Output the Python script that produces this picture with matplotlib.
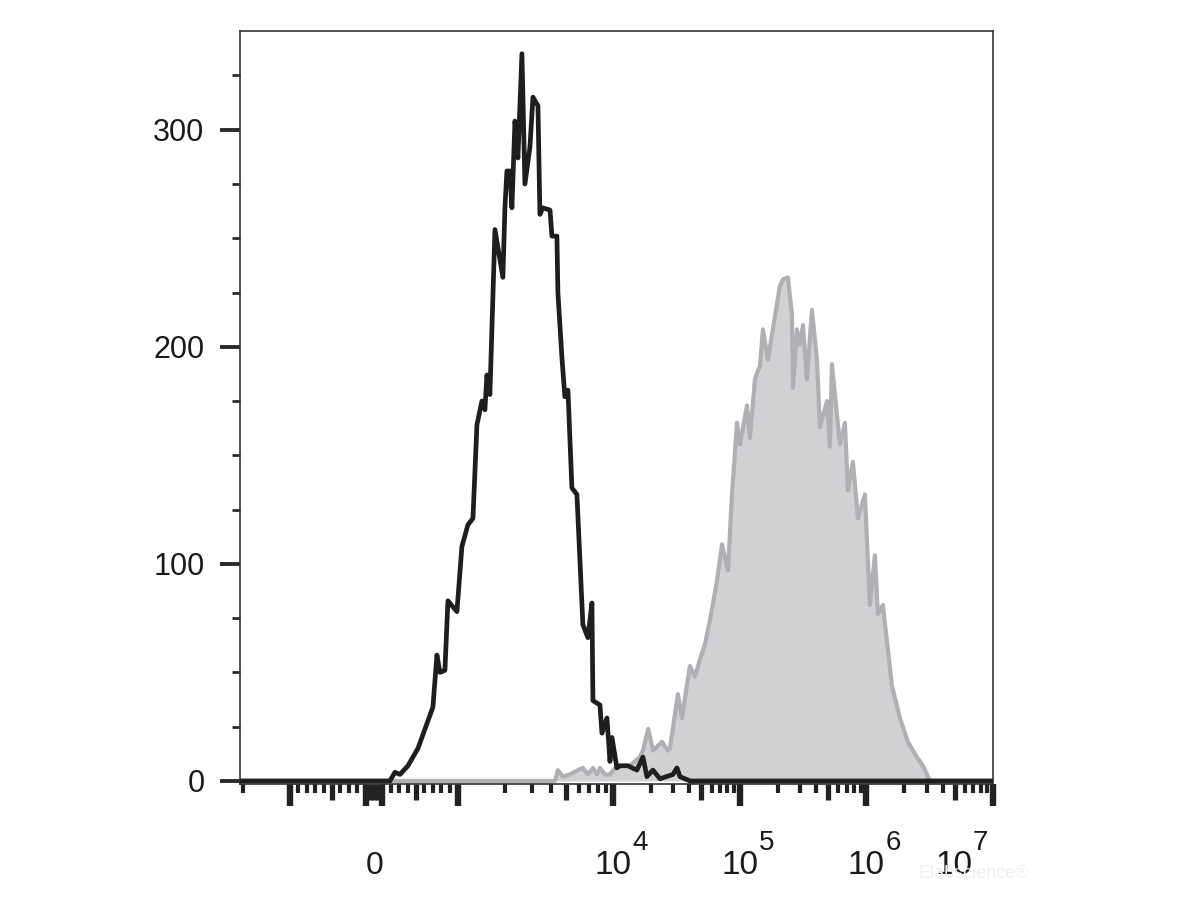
import numpy as np
import matplotlib
matplotlib.use('Agg')
import matplotlib.pyplot as plt
from matplotlib.ticker import MultipleLocator, NullFormatter

plt.rcParams['font.family'] = ['Liberation Sans', 'DejaVu Sans']

# black open histogram (unstained / control)
black_x = [-2100, 190, 250, 310, 405, 524, 571, 702, 750, 786, 845, 881, 988,
           1061, 1160, 1250, 1326, 1428, 1493, 1538, 1608, 1733, 1950, 2010,
           2070, 2163, 2230, 2333, 2438, 2588, 2705, 2914, 3048, 3283, 3381,
           3533, 3926, 4040, 4352, 4416, 4688, 4898, 5128, 5436, 5857, 6400,
           6897, 7321, 7430, 8247, 8497, 9150, 9572, 9863, 10754, 11350, 13130,
           15450, 17250, 18550, 20690, 23500, 29770, 32000, 33820, 40550, 1e7]
black_y = [0, 0, 4, 3, 7, 15, 20, 34, 58, 50, 51, 83, 78,
           108, 118, 121, 164, 175, 171, 187, 178, 254, 232, 264,
           281, 281, 264, 304, 287, 335, 275, 292, 315, 311, 261,
           264, 263, 251, 251, 225, 195, 177, 180, 135, 132, 72,
           66, 82, 37, 35, 22, 29, 9, 20, 6, 7, 7,
           5, 11, 2, 5, 1, 3, 6, 2, 0, 0]

# grey filled histogram (stained)
grey_x = [-2100, 4227, 4416, 4757, 5282, 5943, 6400, 6897, 7430, 7890, 8247,
          8870, 9572, 10370, 11350, 13600, 16320, 17250, 19000, 20690, 24380,
          27180, 28180, 32580, 35060, 40550, 44360, 48630, 53240, 58310, 66260,
          72570, 80930, 87050, 95340, 100700, 114300, 120600, 132100, 139600,
          144600, 152800, 167200, 208000, 219800, 240500, 258800, 263600,
          283400, 299500, 316200, 339800, 372200, 407700, 430600, 488900,
          516300, 535300, 597200, 619300, 678000, 716000, 783600, 858800,
          975000, 1067000, 1169000, 1235000, 1352000, 1592000, 1841000,
          2129000, 2506000, 2797000, 3177000, 1e7]
grey_y = [0, 0, 5, 2, 3, 5, 6, 3, 6, 3, 6,
          3, 3, 6, 7, 7, 11, 14, 24, 14, 18,
          14, 15, 40, 29, 53, 48, 56, 63, 74, 92,
          109, 97, 132, 165, 155, 173, 158, 185, 189,
          191, 208, 194, 228, 231, 232, 215, 181,
          208, 201, 210, 185, 217, 194, 163, 175,
          154, 192, 164, 155, 165, 134, 147, 121,
          132, 81, 104, 77, 81, 44, 29,
          18, 11, 7, 0, 0]

y_major = [0, 100, 200, 300]
x_labels = [(0, '0'), (1e4, '4'), (1e5, '5'), (1e6, '6'), (1e7, '7')]

LIN = 0.084          # display units per count in the linear part
LOGX = [3, 4, 8]
LOGU = [0, 155, 155 + 4 * 126.7]


def fwd(x):
    x = np.asarray(x, dtype=float)
    a = np.abs(x)
    la = np.log10(np.maximum(a, 1000.0))
    u = np.where(a <= 1000, a * LIN, 1000 * LIN + np.interp(la, LOGX, LOGU))
    return np.sign(x) * u


def inv(u):
    u = np.asarray(u, dtype=float)
    a = np.abs(u)
    la = np.interp(np.maximum(a, 1000 * LIN) - 1000 * LIN, LOGU, LOGX)
    x = np.where(a <= 1000 * LIN, a / LIN, 10 ** la)
    return np.sign(u) * x


fig = plt.figure(figsize=(12, 9), dpi=100)
ax = fig.add_axes([0.2, 0.1289, 0.6275, 0.8367])
ax.set_xscale('function', functions=(fwd, inv))

ax.fill_between(grey_x, grey_y, 0, color='#d1d1d3', lw=0, zorder=1)
ax.plot(grey_x, grey_y, color='#b0b0b4', lw=3.0, zorder=2)
ax.plot(black_x, black_y, color='#1e1e1e', lw=3.4, zorder=3)

ax.set_xlim(-2100, 1e7)
ax.set_ylim(-1.4, 345.5)

for s in ax.spines.values():
    s.set_color('#333333')
    s.set_linewidth(1.2)

# y axis
ax.set_yticks(y_major)
ax.set_yticklabels([str(v) for v in y_major], fontsize=22, color='#1a1a1a')
ax.yaxis.set_minor_locator(MultipleLocator(25))
ax.tick_params(axis='y', which='major', length=14.5, width=2.8, color='#2a2a2a', pad=11)
ax.tick_params(axis='y', which='minor', length=5.8, width=2.0, color='#2a2a2a')

# x axis ticks (biexponential style)
x_long = [-1000, -100, 100, 1000, 1e4, 1e5, 1e6, 1e7]
x_mid = [-500, -50, 0, 50, 500, 5e3, 5e4, 5e5, 5e6]
x_short = [-2000, -900, -800, -700, -600, -400, -300, -200,
           200, 300, 400, 600, 700, 800, 900]
for d in [1e3, 1e4, 1e5, 1e6]:
    x_short += [k * d for k in (2, 3, 4, 6, 7, 8, 9)]
ax.set_xticks(x_long)
ax.set_xticks(x_short, minor=True)
ax.xaxis.set_major_formatter(NullFormatter())
ax.xaxis.set_minor_formatter(NullFormatter())
ax.tick_params(axis='x', which='major', length=15.8, width=4.6, color='#222222')
ax.tick_params(axis='x', which='minor', length=6.8, width=3.0, color='#222222')
ax.vlines(x_mid, -16 / 753, 0, transform=ax.get_xaxis_transform(),
          colors='#222222', lw=3.8, clip_on=False)

# x tick labels
trans = ax.get_xaxis_transform()
for v, e in x_labels:
    if v == 0:
        ax.annotate('0', xy=(v, 0), xycoords=trans, xytext=(1, -90),
                    textcoords='offset pixels', ha='center', va='baseline',
                    fontsize=23, color='#1a1a1a')
        continue
    dx = -39 if v == 1e7 else 0
    ax.annotate('10', xy=(v, 0), xycoords=trans, xytext=(dx, -90),
                textcoords='offset pixels', ha='center', va='baseline',
                fontsize=24, color='#1a1a1a')
    ax.annotate(e, xy=(v, 0), xycoords=trans, xytext=(dx + 19, -66),
                textcoords='offset pixels', ha='left', va='baseline',
                fontsize=20, color='#1a1a1a')

fig.text(918 / 1200, 1 - 878 / 900, 'Elabscience\u00ae', fontsize=13, color='#f0f0f0',
         zorder=0)

plt.savefig('out.png', dpi=100)
